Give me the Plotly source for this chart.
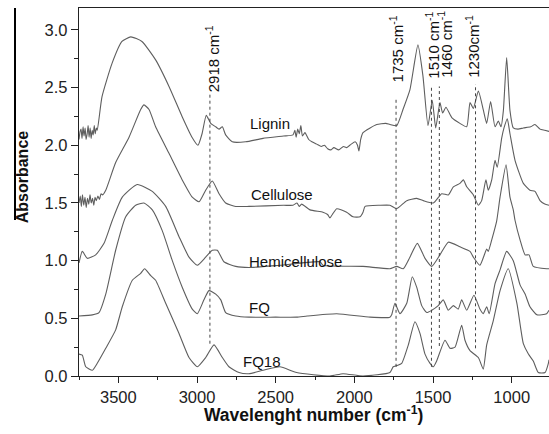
import plotly.graph_objects as go

# ---------------- data (wavenumber cm-1, absorbance) ----------------
lignin_x = [3750, 3743, 3737, 3731, 3724, 3718, 3711, 3705, 3698, 3692, 3686, 3679, 3673, 3666, 3660, 3653, 3647, 3640, 3634,
            3604, 3540, 3477, 3421, 3350, 3263, 3178, 3095, 3032, 2994, 2968, 2941, 2913, 2881, 2860, 2839, 2818, 2776,
            2691, 2581, 2450, 2390, 2378, 2370, 2360, 2350, 2340, 2330, 2314, 2290, 2270, 2239, 2210, 2190, 2170, 2150,
            2130, 2100, 2070, 2049, 2020, 1995, 1980, 1971, 1960, 1945, 1900, 1858, 1800, 1774, 1731, 1691, 1647, 1596,
            1564, 1532, 1505, 1483, 1456, 1439, 1418, 1381, 1329, 1286, 1265, 1244, 1212, 1181, 1159, 1134, 1106, 1085,
            1068, 1053, 1032, 1011, 990, 960, 926, 880, 852, 820, 790, 763]
lignin_y = [2.05, 2.12, 2.14, 2.06, 2.16, 2.08, 2.15, 2.05, 2.10, 2.17, 2.07, 2.15, 2.06, 2.13, 2.09, 2.17, 2.10, 2.15, 2.13,
            2.42, 2.71, 2.90, 2.94, 2.90, 2.74, 2.51, 2.25, 2.07, 2.00, 2.10, 2.26, 2.19, 2.16, 2.14, 2.16, 2.09, 2.03,
            2.03, 2.06, 2.08, 2.09, 2.13, 2.07, 2.14, 2.10, 2.17, 2.08, 2.11, 2.05, 2.03, 2.01, 1.99, 2.00, 1.97, 1.96,
            1.98, 1.96, 1.99, 1.98, 2.01, 2.03, 2.00, 1.95, 2.05, 2.11, 2.15, 2.18, 2.19, 2.18, 2.17, 2.31, 2.48, 2.87,
            2.60, 2.17, 2.39, 2.15, 2.37, 2.28, 2.33, 2.24, 2.19, 2.16, 2.37, 2.32, 2.47, 2.31, 2.19, 2.38, 2.16, 2.21,
            2.16, 2.30, 2.76, 2.30, 2.15, 2.14, 2.15, 2.16, 2.18, 2.14, 2.13, 2.12]

cellulose_x = [3750, 3742, 3735, 3728, 3720, 3712, 3704, 3696, 3688, 3680, 3672, 3664, 3656, 3648, 3640, 3630, 3620, 3610,
               3600, 3580, 3517, 3432, 3358, 3337, 3305, 3263, 3178, 3094, 3030, 2987, 2945, 2903, 2860, 2818, 2754,
               2670, 2450, 2390, 2365, 2350, 2335, 2282, 2200, 2170, 2155, 2140, 2112, 2049, 2009, 1964, 1945, 1932,
               1837, 1774, 1731, 1667, 1604, 1562, 1498, 1445, 1403, 1371, 1329, 1307, 1286, 1244, 1212, 1191, 1164,
               1149, 1127, 1106, 1092, 1064, 1049, 1028, 1011, 979, 926, 884, 852, 820, 790, 763]
cellulose_y = [1.50, 1.56, 1.47, 1.57, 1.48, 1.55, 1.46, 1.54, 1.49, 1.57, 1.50, 1.54, 1.48, 1.55, 1.52, 1.56, 1.53, 1.58,
               1.57, 1.61, 1.85, 2.07, 2.31, 2.35, 2.31, 2.16, 1.93, 1.70, 1.55, 1.51, 1.61, 1.69, 1.58, 1.50, 1.47,
               1.47, 1.48, 1.48, 1.50, 1.47, 1.49, 1.44, 1.42, 1.40, 1.37, 1.40, 1.45, 1.42, 1.38, 1.38, 1.42, 1.47,
               1.48, 1.48, 1.45, 1.52, 1.54, 1.52, 1.50, 1.58, 1.57, 1.64, 1.67, 1.70, 1.64, 1.57, 1.48, 1.52, 1.70,
               1.61, 1.70, 1.87, 1.81, 2.06, 2.15, 2.23, 2.10, 1.87, 1.67, 1.61, 1.60, 1.52, 1.49, 1.48]

hemi_x = [3750, 3729, 3697, 3644, 3591, 3538, 3475, 3380, 3284, 3199, 3115, 3051, 2998, 2945, 2903, 2871, 2829, 2754,
          2670, 2473, 2218, 2200, 1945, 1774, 1731, 1689, 1647, 1600, 1551, 1508, 1456, 1403, 1329, 1265, 1244, 1202,
          1159, 1149, 1127, 1096, 1074, 1036, 1011, 990, 979, 947, 915, 890, 863, 778, 763]
hemi_y = [0.98, 1.08, 1.02, 1.05, 1.15, 1.35, 1.55, 1.66, 1.60, 1.47, 1.21, 1.03, 0.96, 1.03, 1.09, 1.09, 0.99, 0.95,
          0.94, 0.96, 0.99, 0.96, 0.95, 0.93, 0.95, 0.93, 1.03, 1.15, 1.02, 0.95, 1.05, 1.16, 1.12, 1.08, 1.03, 0.96,
          1.10, 1.08, 1.18, 1.34, 1.55, 1.83, 1.55, 1.44, 1.35, 1.18, 1.05, 1.05, 0.95, 0.93, 0.93]

fq_x = [3750, 3665, 3623, 3580, 3517, 3453, 3390, 3337, 3284, 3221, 3157, 3094, 3030, 2998, 2956, 2924, 2881, 2849,
        2818, 2754, 2670, 2500, 2367, 2300, 2112, 1900, 1774, 1763, 1742, 1710, 1667, 1632, 1604, 1572, 1540, 1508,
        1467, 1435, 1403, 1371, 1340, 1318, 1286, 1240, 1202, 1181, 1159, 1143, 1106, 1074, 1032, 990, 947, 915,
        884, 840, 778, 763]
fq_y = [0.52, 0.53, 0.55, 0.71, 1.09, 1.38, 1.48, 1.50, 1.44, 1.26, 1.00, 0.77, 0.58, 0.54, 0.66, 0.74, 0.71, 0.66,
        0.55, 0.52, 0.51, 0.51, 0.51, 0.52, 0.54, 0.51, 0.51, 0.53, 0.63, 0.54, 0.63, 0.86, 0.77, 0.61, 0.55, 0.57,
        0.61, 0.66, 0.57, 0.61, 0.58, 0.66, 0.57, 0.70, 0.58, 0.54, 0.60, 0.54, 0.80, 0.92, 1.08, 1.00, 0.79, 0.71,
        0.60, 0.53, 0.54, 0.57]

fq18_x = [3750, 3729, 3707, 3665, 3634, 3580, 3517, 3475, 3411, 3358, 3333, 3294, 3263, 3199, 3115, 3051, 2998, 2945,
          2892, 2839, 2797, 2733, 2670, 2579, 2473, 2367, 2155, 2072, 1945, 1774, 1753, 1731, 1699, 1657, 1615, 1583,
          1551, 1519, 1498, 1477, 1424, 1392, 1360, 1318, 1297, 1265, 1212, 1181, 1159, 1117, 1074, 1022, 967, 926,
          894, 863, 831, 788, 767, 763]
fq18_y = [0.19, 0.18, 0.08, 0.05, 0.11, 0.24, 0.40, 0.60, 0.83, 0.89, 0.93, 0.87, 0.83, 0.63, 0.37, 0.16, 0.08, 0.16,
          0.27, 0.16, 0.08, 0.03, 0.02, 0.05, 0.08, 0.03, 0.00, 0.02, 0.00, 0.03, 0.08, 0.09, 0.11, 0.27, 0.47, 0.37,
          0.19, 0.11, 0.08, 0.13, 0.31, 0.24, 0.25, 0.44, 0.31, 0.22, 0.16, 0.06, 0.27, 0.48, 0.74, 0.93, 0.63, 0.28,
          0.19, 0.13, 0.03, 0.03, 0.11, 0.14]

series_names = ["Lignin", "Cellulose", "Hemicellulose", "FQ", "FQ18"]
label_x = [2536, 2460, 2377, 2606, 2584]
label_y = [2.185, 1.577, 0.994, 0.595, 0.126]

peak_pos = [2918, 1735, 1510, 1460, 1230]
peak_text = ["2918 cm<sup>-1</sup>", "1735 cm<sup>-1</sup>", "1510 cm<sup>-1</sup>",
             "1460 cm<sup>-1</sup>", "1230cm<sup>-1</sup>"]
peak_line_top = [2.44, 2.42, 2.51, 2.51, 2.53]
peak_line_bottom = [0.28, 0.08, 0.08, 0.26, 0.24]
peak_label_x = [2905, 1731, 1502, 1424, 1254]
peak_label_y = [2.754, 2.837, 2.87, 2.88, 2.86]

xs = [lignin_x, cellulose_x, hemi_x, fq_x, fq18_x]
ys = [lignin_y, cellulose_y, hemi_y, fq_y, fq18_y]

FONT = "Liberation Sans, Arial, sans-serif"
LINE_COL = "#5e5e5e"
W, H = 549, 434

fig = go.Figure()
for name, x, y in zip(series_names, xs, ys):
    fig.add_trace(go.Scatter(x=x, y=y, mode="lines", name=name,
                             line=dict(color=LINE_COL, width=1.1, shape="spline", smoothing=0.5),
                             showlegend=False))

for name, lx, ly in zip(series_names, label_x, label_y):
    fig.add_annotation(x=lx, y=ly, text=name, showarrow=False, xanchor="center", yanchor="middle",
                       font=dict(family=FONT, size=15, color="#111"))

for p, t0, t1, txt, lx, ly in zip(peak_pos, peak_line_top, peak_line_bottom, peak_text, peak_label_x, peak_label_y):
    fig.add_shape(type="line", x0=p, x1=p, y0=t1, y1=t0, xref="x", yref="y",
                  line=dict(color="#444", width=1, dash="dot"))
    fig.add_annotation(x=lx, y=ly, text=txt, textangle=-90, showarrow=False,
                       xanchor="center", yanchor="middle",
                       font=dict(family=FONT, size=15, color="#111"))

# stray crop line at far left of the reference (two stacked pieces)
fig.add_shape(type="rect", xref="paper", yref="paper", x0=14 / W, x1=16 / W, y0=0.424, y1=0.72,
              fillcolor="#000", line=dict(width=0), layer="above")
fig.add_shape(type="rect", xref="paper", yref="paper", x0=14 / W, x1=16 / W, y0=0.72, y1=1.0,
              fillcolor="#000", line=dict(width=0), layer="above")

# axis titles (paper x spans the full figure width because left margin is 0)
fig.add_annotation(xref="paper", yref="paper", x=22 / W, y=0.54, text="<b>Absorbance</b>",
                   textangle=-90, showarrow=False, xanchor="center", yanchor="middle",
                   font=dict(family=FONT, size=16, color="#111"))
fig.add_annotation(xref="paper", yref="paper", x=313 / W, y=-0.103,
                   text="<b>Wavelenght number (cm<sup>-1</sup>)</b>",
                   showarrow=False, xanchor="center", yanchor="middle",
                   font=dict(family=FONT, size=17.5, color="#111"))

fig.update_layout(
    width=W, height=H,
    margin=dict(l=0, r=0, t=8, b=58),
    paper_bgcolor="white", plot_bgcolor="white",
    font=dict(family=FONT, size=16, color="#111"),
    xaxis=dict(domain=[79 / W, 1], range=[3750, 763], tickmode="linear", tick0=0, dtick=500,
               ticks="outside", ticklen=6, tickwidth=1.2, tickcolor="#222",
               showline=True, linecolor="#222", linewidth=1.3, mirror=True,
               showgrid=False, zeroline=False,
               minor=dict(ticks="outside", ticklen=3, tickwidth=1, tickcolor="#222", dtick=250, tick0=0),
               tickfont=dict(family=FONT, size=16.5, color="#222")),
    yaxis=dict(range=[0, 3.19], tickmode="linear", tick0=0, dtick=0.5, tickformat=".1f",
               ticks="outside", ticklen=7, tickwidth=1.2, tickcolor="#222",
               showline=True, linecolor="#222", linewidth=1.3, mirror=False,
               showgrid=False, zeroline=False, automargin=False,
               minor=dict(ticks="outside", ticklen=4, tickwidth=1, tickcolor="#222", dtick=0.25, tick0=0),
               tickfont=dict(family=FONT, size=16.5, color="#222")),
)

fig.write_html("out.html")
